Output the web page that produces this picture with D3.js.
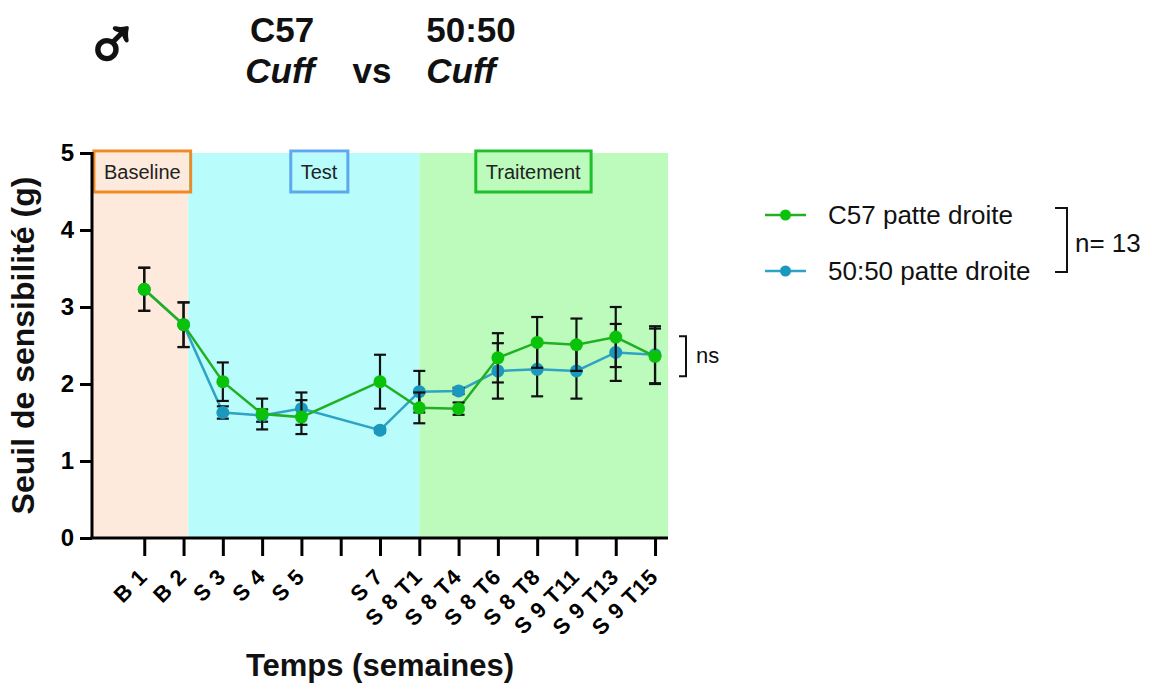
<!DOCTYPE html>
<html><head><meta charset="utf-8">
<script src="https://cdn.jsdelivr.net/npm/d3@7"></script>
<style>body{margin:0;background:#fff}svg{display:block}text{font-family:"Liberation Sans",Arial,sans-serif}</style>
</head><body><svg id="c" width="1150" height="684"></svg>
<script>
// ---- data ----
const tickLabels = ["B 1","B 2","S 3","S 4","S 5","","S 7","S 8 T1","S 8 T4","S 8 T6","S 8 T8","S 9 T11","S 9 T13","S 9 T15"];
const c57Mean = [3.23,2.77,2.03,1.61,1.57,null,2.03,1.69,1.68,2.34,2.54,2.51,2.61,2.36];
const c57Sem  = [0.28,0.29,0.25,0.20,0.22,null,0.35,0.20,0.08,0.32,0.33,0.34,0.39,0.36];
const mixMean = [3.23,2.77,1.63,1.59,1.68,null,1.40,1.90,1.91,2.17,2.19,2.17,2.41,2.38];
const mixSem  = [0.28,0.29,0.08,0.08,0.21,null,0.03,0.27,0.04,0.36,0.35,0.36,0.37,0.37];
const seriesNames = ["C57 patte droite","50:50 patte droite"];
const phases = [
  {name:"Baseline", from:-1.33, to:1.12, label:-0.05},
  {name:"Test", from:1.12, to:7, label:4.45},
  {name:"Traitement", from:7, to:13.33, label:9.9}
];
const yTicks = [0,1,2,3,4,5];

// ---- styles ----
const phaseFill = ["#fdeadd","#b8fcfc","#bdfbbd"];
const phaseStroke = ["#f08a24","#5ea8ee","#1fbf2a"];
const greenLine = "#22b022", greenPt = "#0bc20b";
const blueLine = "#2ea3c4", bluePt = "#1b98bd";

const svg = d3.select("#c");
const x = d3.scaleLinear().domain([-1.33,13.33]).range([92,668]);
const y = d3.scaleLinear().domain([0,5]).range([538,153]);

// bands
svg.selectAll("rect.band").data(phases).join("rect")
  .attr("x", d=>x(d.from)).attr("y", y(5))
  .attr("width", d=>x(d.to)-x(d.from)).attr("height", y(0)-y(5))
  .attr("fill", (d,i)=>phaseFill[i]);

// phase label boxes
phases.forEach((p,i)=>{
  const g = svg.append("g");
  const t = g.append("text").attr("x", x(p.label)).attr("y", 179)
    .attr("text-anchor","middle").attr("font-size",20).attr("fill","#222").text(p.name);
  const bb = t.node().getBBox();
  g.insert("rect","text").attr("x", bb.x-10).attr("y", 151).attr("width", bb.width+20).attr("height", 41)
    .attr("fill","none").attr("stroke", phaseStroke[i]).attr("stroke-width",3);
});

// axes
const yAxis = svg.append("g").attr("transform",`translate(${x(-1.33)},0)`)
  .call(d3.axisLeft(y).tickValues(yTicks).tickSize(12).tickPadding(6).tickFormat(d3.format("d")));
yAxis.selectAll("text").attr("font-size",24).attr("font-weight","bold").attr("fill","#000");
yAxis.selectAll("line,path").attr("stroke","#000").attr("stroke-width",3);
yAxis.select("path").attr("d", `M0,${y(5)-1}V${y(0)}`);

const idx = d3.range(tickLabels.length);
const xAxis = svg.append("g").attr("transform",`translate(0,${y(0)})`)
  .call(d3.axisBottom(x).tickValues(idx).tickSize(18).tickFormat(i=>tickLabels[i]));
xAxis.selectAll("line").attr("stroke","#000").attr("stroke-width",3);
xAxis.select("path").attr("stroke","#000").attr("stroke-width",3).attr("d",`M${x(-1.33)-1.5},0H${x(13.33)}`);
xAxis.selectAll("text").attr("font-size",22).attr("font-weight","bold").attr("fill","#000")
  .attr("letter-spacing","0.8px")
  .attr("text-anchor","end").attr("dy",null).attr("y",0)
  .attr("transform","translate(4,40) rotate(-45)");

// series
function drawSeries(mean, sem, lc, pc){
  const pts = idx.filter(i=>mean[i]!==null).map(i=>({i, m:mean[i], s:sem[i]}));
  svg.append("path").datum(pts)
    .attr("d", d3.line().x(d=>x(d.i)).y(d=>y(d.m)))
    .attr("fill","none").attr("stroke",lc).attr("stroke-width",2.5);
  const eb = svg.append("g").attr("stroke","#111").attr("stroke-width",2.2);
  pts.forEach(d=>{
    eb.append("line").attr("x1",x(d.i)).attr("x2",x(d.i)).attr("y1",y(d.m+d.s)).attr("y2",y(d.m-d.s));
    eb.append("line").attr("x1",x(d.i)-6).attr("x2",x(d.i)+6).attr("y1",y(d.m+d.s)).attr("y2",y(d.m+d.s));
    eb.append("line").attr("x1",x(d.i)-6).attr("x2",x(d.i)+6).attr("y1",y(d.m-d.s)).attr("y2",y(d.m-d.s));
  });
  svg.append("g").selectAll("circle").data(pts).join("circle")
    .attr("cx",d=>x(d.i)).attr("cy",d=>y(d.m)).attr("r",6.5).attr("fill",pc);
}
drawSeries(mixMean, mixSem, blueLine, bluePt);
drawSeries(c57Mean, c57Sem, greenLine, greenPt);

// ns bracket
const nsTop = y(2.62), nsBot = y(2.1);
svg.append("path").attr("d",`M679,${nsTop}H686V${nsBot}H679`).attr("fill","none").attr("stroke","#111").attr("stroke-width",2);
svg.append("text").attr("x",696).attr("y",(nsTop+nsBot)/2+7).attr("font-size",22).attr("fill","#111").text("ns");

// legend
const legY = [215, 271];
const legColors = [[greenLine,greenPt],[blueLine,bluePt]];
seriesNames.forEach((n,i)=>{
  svg.append("line").attr("x1",765).attr("x2",806).attr("y1",legY[i]).attr("y2",legY[i]).attr("stroke",legColors[i][0]).attr("stroke-width",2.5);
  svg.append("circle").attr("cx",785.5).attr("cy",legY[i]).attr("r",5.5).attr("fill",legColors[i][1]);
  svg.append("text").attr("x",828).attr("y",legY[i]+9).attr("font-size",26).attr("fill","#111").text(n);
});
svg.append("path").attr("d","M1055,208H1067V272H1055").attr("fill","none").attr("stroke","#111").attr("stroke-width",2);
svg.append("text").attr("x",1075).attr("y",252).attr("font-size",26).attr("fill","#111").text("n= 13");

// axis titles
svg.append("text").attr("transform",`translate(34,${(y(0)+y(5))/2}) rotate(-90)`)
  .attr("text-anchor","middle").attr("font-size",32).attr("font-weight","bold").attr("fill","#111").text("Seuil de sensibilité (g)");
svg.append("text").attr("x",380).attr("y",676).attr("text-anchor","middle")
  .attr("font-size",31).attr("font-weight","bold").attr("fill","#111").text("Temps (semaines)");

// title
const tg = svg.append("g").attr("font-weight","bold").attr("fill","#111").attr("font-size",35).attr("text-anchor","middle");
tg.append("text").attr("x",112).attr("y",69).attr("font-size",74).attr("font-family","DejaVu Sans")
  .attr("font-weight","normal").attr("stroke","#111").attr("stroke-width",2.6).text("♂");
tg.append("text").attr("x",282).attr("y",42).text("C57");
tg.append("text").attr("x",280).attr("y",83).attr("font-style","italic").text("Cuff");
tg.append("text").attr("x",372).attr("y",83).text("vs");
tg.append("text").attr("x",471).attr("y",42).text("50:50");
tg.append("text").attr("x",461).attr("y",83).attr("font-style","italic").text("Cuff");
</script></body></html>
